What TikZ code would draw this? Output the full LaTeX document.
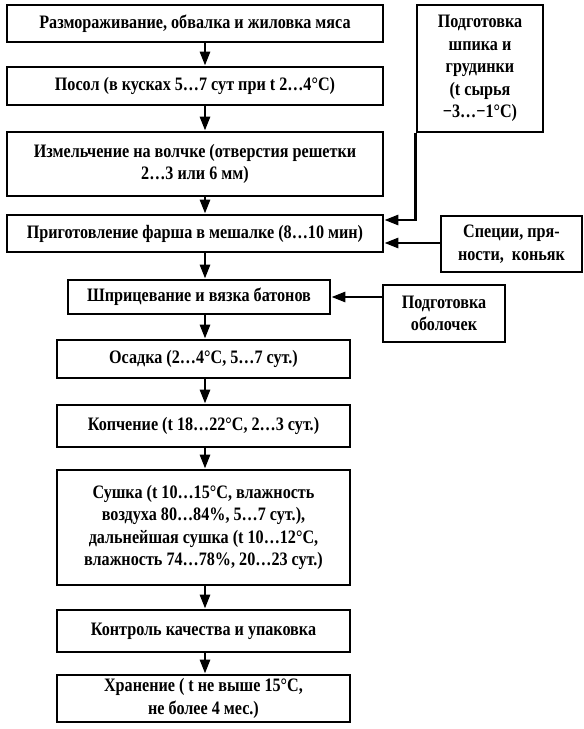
\documentclass[tikz,border=0pt]{standalone}
\usepackage{fontspec}
\setmainfont{Liberation Serif}[FakeStretch=0.85]
\usetikzlibrary{arrows.meta}
\begin{document}
\begin{tikzpicture}[x=1pt,y=-1pt,
  box/.style={draw,line width=2.8pt,inner sep=1pt,align=center,
    font=\fontsize{19}{22.5}\selectfont\bfseries},
  arr/.style={line width=2.8pt,-{Triangle[length=14pt,width=10pt]}}]
\useasboundingbox (0,0) rectangle (584,729);
\coordinate (ax) at (205,0);
\node[box,minimum width=376,minimum height=37] (b1) at (195,23.5) {Размораживание, обвалка и жиловка мяса};
\node[box,minimum width=376,minimum height=38] (b2) at (195,86) {Посол (в кусках 5…7 сут при t 2…4°С)};
\node[box,minimum width=376,minimum height=64] (b3) at (195,164) {Измельчение на волчке (отверстия решетки\\2…3 или 6 мм)};
\node[box,minimum width=376,minimum height=37] (b4) at (195,233.5) {Приготовление фарша в мешалке (8…10 мин)};
\node[box,minimum width=262,minimum height=34] (b5) at (199,297) {Шприцевание и вязка батонов};
\node[box,minimum width=293,minimum height=38] (b6) at (203.5,359) {Осадка (2…4°С, 5…7 сут.)};
\node[box,minimum width=293,minimum height=42] (b7) at (203.5,426) {Копчение (t 18…22°С, 2…3 сут.)};
\node[box,minimum width=293,minimum height=115] (b8) at (203.5,527.5) {Сушка (t 10…15°С, влажность\\воздуха 80…84\%, 5…7 сут.),\\дальнейшая сушка (t 10…12°С,\\влажность 74…78\%, 20…23 сут.)};
\node[box,minimum width=293,minimum height=42] (b9) at (203.5,631) {Контроль качества и упаковка};
\node[box,minimum width=293,minimum height=47] (b10) at (203.5,698.5) {Хранение ( t не выше 15°С,\\не более 4 мес.)};
\node[box,minimum width=126,minimum height=127] (p1) at (480,68.5) {Подготовка\\шпика и\\грудинки\\(t сырья\\−3…−1°С)};
\node[box,minimum width=141,minimum height=56] (sp) at (511.5,244) {Специи, пря-\\ности,\ \ коньяк};
\node[box,minimum width=122,minimum height=57] (ob) at (444,313.5) {Подготовка\\оболочек};
\draw[arr] (b1.south -| ax) -- (b2.north -| ax);
\draw[arr] (b2.south -| ax) -- (b3.north -| ax);
\draw[arr] (b3.south -| ax) -- (b4.north -| ax);
\draw[arr] (b4.south -| ax) -- (b5.north -| ax);
\draw[arr] (b5.south -| ax) -- (b6.north -| ax);
\draw[arr] (b6.south -| ax) -- (b7.north -| ax);
\draw[arr] (b7.south -| ax) -- (b8.north -| ax);
\draw[arr] (b8.south -| ax) -- (b9.north -| ax);
\draw[arr] (b9.south -| ax) -- (b10.north -| ax);
\draw[arr] (p1.south west) |- ([yshift=13.5pt]b4.east);
\draw[arr] (sp.west |- 0,243) -- (b4.east |- 0,243);
\draw[arr] (ob.west |- b5.east) -- (b5.east);
\end{tikzpicture}
\end{document}
